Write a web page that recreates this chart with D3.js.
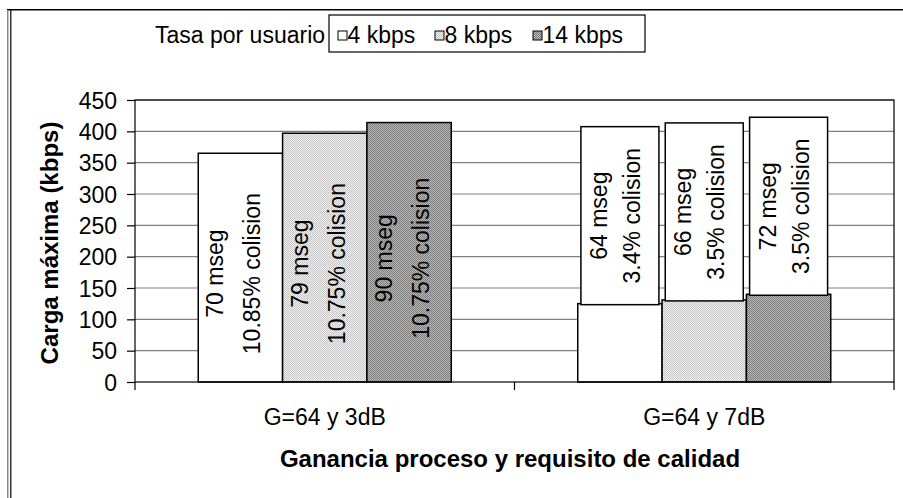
<!DOCTYPE html>
<html><head><meta charset="utf-8">
<script src="https://cdn.jsdelivr.net/npm/d3@7"></script>
<style>body{margin:0;background:#fff}svg{display:block}text{font-family:"Liberation Sans",Arial,sans-serif}</style>
</head><body><svg id="c" width="903" height="498"></svg>
<script>
const categories = ["G=64 y 3dB", "G=64 y 7dB"];
const seriesNames = ["4 kbps", "8 kbps", "14 kbps"];
const values4 = [365, 125];
const values8 = [397, 131];
const values14 = [414, 140];
const delay4 = ["70 mseg", "64 mseg"];
const delay8 = ["79 mseg", "66 mseg"];
const delay14 = ["90 mseg", "72 mseg"];
const coll4 = ["10.85% colision", "3.4% colision"];
const coll8 = ["10.75% colision", "3.5% colision"];
const coll14 = ["10.75% colision", "3.5% colision"];
const yTicks = [0, 50, 100, 150, 200, 250, 300, 350, 400, 450];
const legendTitle = "Tasa por usuario";
const yTitle = "Carga máxima (kbps)";
const xTitle = "Ganancia proceso y requisito de calidad";

const seriesValues = [values4, values8, values14];
const seriesDelay = [delay4, delay8, delay14];
const seriesColl = [coll4, coll8, coll14];

const svg = d3.select("#c");
const defs = svg.append("defs");
function pat(id, base, dot) {
  const p = defs.append("pattern").attr("id", id).attr("width", 2).attr("height", 2).attr("patternUnits", "userSpaceOnUse");
  p.append("rect").attr("width", 2).attr("height", 2).attr("fill", base);
  p.append("rect").attr("x", 0).attr("y", 0).attr("width", 1).attr("height", 1).attr("fill", dot);
  p.append("rect").attr("x", 1).attr("y", 1).attr("width", 1).attr("height", 1).attr("fill", dot);
}
pat("pLight", "#f2f2f2", "#c4c4c4");
pat("pDark", "#b8b8b8", "#7c7c7c");
const fills = ["#ffffff", "url(#pLight)", "url(#pDark)"];

// frame
svg.append("rect").attr("x", 7).attr("y", 9).attr("width", 896).attr("height", 1.5).attr("fill", "#000");
svg.append("rect").attr("x", 7).attr("y", 10).attr("width", 1.5).attr("height", 488).attr("fill", "#888");
svg.append("rect").attr("x", 10.2).attr("y", 10).attr("width", 1.2).attr("height", 488).attr("fill", "#000");

const L = 135, R = 894, T = 100, B = 382;
const y = d3.scaleLinear().domain([0, 450]).range([B, T]);
const x0 = d3.scaleBand().domain(categories).range([L, R]).paddingInner(0).paddingOuter(0);
const gapRatio = 1.5;
const barW = x0.bandwidth() / (seriesNames.length + gapRatio);
const x1 = d3.scaleBand().domain(seriesNames).range([0, barW * seriesNames.length]);
const groupOff = (x0.bandwidth() - barW * seriesNames.length) / 2;

// gridlines
svg.append("g").selectAll("line").data(yTicks.filter(d => d > 0)).join("line")
  .attr("x1", L).attr("x2", R).attr("y1", d => y(d)).attr("y2", d => y(d))
  .attr("stroke", "#808080").attr("stroke-width", 1.2);

// y axis
const yAxis = d3.axisLeft(y).tickValues(yTicks).tickSize(8).tickPadding(10);
const gy = svg.append("g").attr("transform", `translate(${L},0)`).call(yAxis);
gy.select(".domain").remove();
gy.selectAll(".tick line").attr("stroke", "#000").attr("stroke-width", 1.2);
gy.selectAll(".tick text").attr("font-size", 23).attr("fill", "#000").attr("font-family", "Liberation Sans, Arial").attr("dy", "0.36em");

// bars
const data = [];
categories.forEach((c, ci) => seriesNames.forEach((s, si) => data.push({c, ci, s, si, v: seriesValues[si][ci], d: seriesDelay[si][ci], k: seriesColl[si][ci]})));
const bx = d => x0(d.c) + groupOff + x1(d.s);
svg.append("g").selectAll("rect").data(data).join("rect")
  .attr("x", bx).attr("y", d => y(d.v)).attr("width", barW).attr("height", d => B - y(d.v))
  .attr("fill", d => fills[d.si]).attr("stroke", "#000").attr("stroke-width", 1.5);

// plot border
svg.append("rect").attr("x", L).attr("y", T).attr("width", R - L).attr("height", B - T)
  .attr("fill", "none").attr("stroke", "#000").attr("stroke-width", 1.2);

// x category ticks
svg.append("g").selectAll("line").data([L, L + x0.bandwidth(), R]).join("line")
  .attr("x1", d => d).attr("x2", d => d).attr("y1", B).attr("y2", B + 8).attr("stroke", "#000").attr("stroke-width", 1.2);
svg.append("g").selectAll("text").data(categories).join("text")
  .attr("x", d => x0(d) + x0.bandwidth() / 2).attr("y", 425).attr("text-anchor", "middle")
  .attr("font-size", 23).text(d => d);

// labels
const lab = svg.append("g");
data.forEach(d => {
  const cx = bx(d) + barW / 2;
  let cy, d1, d2;
  if (d.ci === 0) {
    cy = (y(d.v) + B) / 2 + 6;
    d1 = -17; d2 = 20;
  } else {
    const bh = 178, bw = 78;
    const bottom = y(d.v) + 1;
    lab.append("rect").attr("x", cx - bw / 2).attr("y", bottom - bh).attr("width", bw).attr("height", bh)
      .attr("fill", "#fff").attr("stroke", "#000").attr("stroke-width", 1.5);
    cy = bottom - bh / 2;
    d1 = -13; d2 = 20;
  }
  const g = lab.append("g").attr("transform", `translate(${cx},${cy}) rotate(-90)`);
  g.append("text").attr("x", 0).attr("y", d1).attr("text-anchor", "middle").attr("font-size", 23).text(d.d);
  g.append("text").attr("x", 0).attr("y", d2).attr("text-anchor", "middle").attr("font-size", 23).text(d.k);
});

// axis titles
svg.append("text").attr("transform", `translate(58,243) rotate(-90)`).attr("text-anchor", "middle")
  .attr("font-size", 24).attr("font-weight", "bold").text(yTitle);
svg.append("text").attr("x", 510).attr("y", 467).attr("text-anchor", "middle")
  .attr("font-size", 24).attr("font-weight", "bold").text(xTitle);

// legend
svg.append("text").attr("x", 155).attr("y", 43).attr("font-size", 23).text(legendTitle);
const lg = svg.append("g");
lg.append("rect").attr("x", 329).attr("y", 15).attr("width", 316).attr("height", 37).attr("fill", "#fff").attr("stroke", "#000").attr("stroke-width", 1.2);
const legX = [338, 435, 533];
seriesNames.forEach((s, i) => {
  lg.append("rect").attr("x", legX[i]).attr("y", 31).attr("width", 9).attr("height", 9).attr("fill", fills[i]).attr("stroke", "#000").attr("stroke-width", 1);
  lg.append("text").attr("x", legX[i] + 9.5).attr("y", 43).attr("font-size", 23).text(s);
});
</script></body></html>
